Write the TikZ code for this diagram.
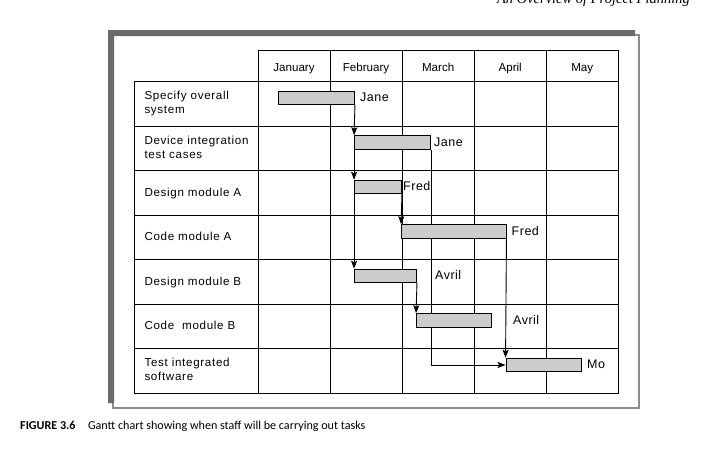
\documentclass[tikz,border=0pt]{standalone}
\usepackage{fontspec}
\setmainfont{Liberation Sans}
\newfontfamily\taskfont[LetterSpace=6]{Liberation Sans}
\newfontfamily\whofont[LetterSpace=4]{Liberation Sans}
\newfontfamily\capfont{Carlito}
\newfontfamily\runfont{Liberation Serif}
\usetikzlibrary{arrows.meta,backgrounds}
\definecolor{shadowgray}{HTML}{6B6B6B}
\definecolor{edgegray}{HTML}{8C8C8C}
\definecolor{barfill}{HTML}{CCCCCC}
\tikzset{
  grid/.style={draw, line width=0.9pt, line cap=rect},
  month/.style={anchor=base, inner sep=0pt, font=\fontsize{11.6}{14}\selectfont},
  task/.style={anchor=south west, inner sep=0pt, text depth=0pt, align=left, font=\taskfont\fontsize{11.6}{14}\selectfont},
  bar/.style={draw, fill=barfill, line width=0.9pt, inner sep=0pt, minimum height=13.5pt},
  who/.style={anchor=base west, inner sep=0pt, font=\whofont\fontsize{12.5}{14}\selectfont},
  link/.style={draw, line width=0.9pt, -{Stealth[length=8pt,width=6pt,inset=1.5pt]}}
}
\begin{document}
\begin{tikzpicture}[x=1pt,y=-1pt]
      \useasboundingbox (0,0) rectangle (703,450);
      \def \Months{
        1/January,
        2/February,
        3/March,
        4/April,
        5/May}
      \def \Tasks{
        1/10/{Specify overall\\system},
        2/10/{Device integration\\test cases},
        3/3.6/{Design module A},
        4/3.6/{Code module A},
        5/3.6/{Design module B},
        6/3.6/{Code~~module B},
        7/10/{Test integrated\\software}}
      \def \Bars{
        1/278.5/354.5/Jane/360,
        2/354.5/430.5/Jane/434,
        3/354.5/401.5/Fred/403,
        4/401.5/506/Fred/511.5,
        5/354.5/416.5/Avril/435,
        6/416.5/491.5/Avril/513,
        7/506/581.5/Mo/587}
      \draw[edgegray, line width=1.3pt] (113,35) rectangle (639,408);
      \fill[shadowgray] (108,30) -- (635,30) -- (635,36) -- (114,36) -- (114,403) -- (108,403) -- cycle;
      \node[anchor=base east, inner sep=0pt, font=\runfont\itshape\fontsize{14.5}{16}\selectfont] (run) at (690,3.8) {An Overview of Project Planning};
      \path[grid] (258,50) -- (618.3,50);
      \foreach \r in {0,...,7}{
        \path[grid] (134.3,{81.7+\r*44.5}) -- (618.3,{81.7+\r*44.5});
      }
      \foreach \c in {0,...,5}{
        \path[grid] ({258+\c*72.06},50) -- ({258+\c*72.06},393.2);
      }
      \path[grid] (134.3,81.7) -- (134.3,393.2);
      \foreach \id / \m in \Months{
        \node[month] (m\id) at ({258+(\id-0.5)*72.06},71.2) {\m};
      }
      \foreach \id / \dy / \t in \Tasks{
        \node[task] (t\id) at (144.3,{81.7+(\id-0.5)*44.5+\dy}) {\t};
      }
      \foreach \id / \a / \b / \w / \lx in \Bars{
        \pgfmathsetmacro\len{\b-\a}
        \node[bar, minimum width=\len pt] (b\id) at ({(\a+\b)/2},{75.7+(\id-0.5)*44.5}) {};
        \node[who] (w\id) at (\lx,{79.7+(\id-0.5)*44.5}) {\w};
      }
      \begin{pgfonlayer}{background}
        \path[link] (b1.south east) -- (b2.north west);
        \path[link] (b2.south west) -- (b3.north west);
        \path[link] (b3.south west) -- (b5.north west);
        \path[link] (b3.south east) -- (b4.north west);
        \path[link] (b5.south east) -- (b6.north west);
        \path[link] (b4.south east) -- (b7.north west);
        \path[link] (b2.south east) |- (b7.west);
      \end{pgfonlayer}
      \node[anchor=base west, inner sep=0pt, font=\capfont\fontsize{12.1}{14}\selectfont] (cap) at (20,429) {\textbf{FIGURE 3.6}\hspace{12.5pt}Gantt chart showing when staff will be carrying out tasks};
    \end{tikzpicture}
\end{document}
